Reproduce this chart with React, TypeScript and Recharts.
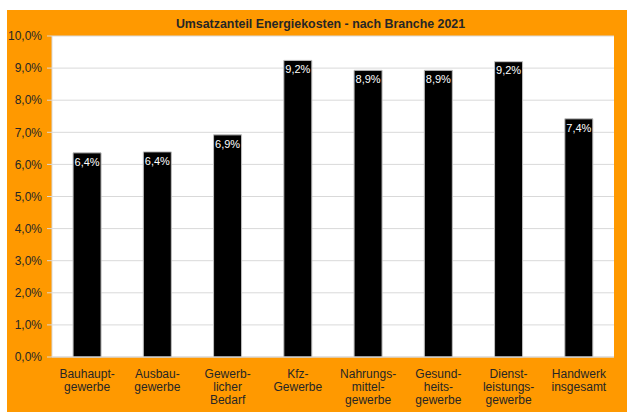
import { Bar, BarChart, CartesianGrid, LabelList, XAxis, YAxis } from "recharts";

const branchen = [
  "Bauhaupt-\ngewerbe",
  "Ausbau-\ngewerbe",
  "Gewerb-\nlicher\nBedarf",
  "Kfz-\nGewerbe",
  "Nahrungs-\nmittel-\ngewerbe",
  "Gesund-\nheits-\ngewerbe",
  "Dienst-\nleistungs-\ngewerbe",
  "Handwerk\ninsgesamt",
];

const anteil = [6.36, 6.39, 6.92, 9.24, 8.93, 8.93, 9.2, 7.42];

const yTicks = [0, 1, 2, 3, 4, 5, 6, 7, 8, 9, 10];

const data = branchen.map((name, i) => ({ name, value: anteil[i] }));

const FONT = '"Liberation Sans", Arial, sans-serif';
const pct = (v: number) => `${v.toFixed(1).replace(".", ",")}%`;

function BranchTick(props: any) {
  const { x, y, payload } = props;
  const lines = String(payload.value).split("\n");
  return (
    <text x={x} y={y} textAnchor="middle" fontFamily={FONT} fontSize={12} fill="#262626">
      {lines.map((l, i) => (
        <tspan key={i} x={x} dy={i === 0 ? "0.71em" : 13.3}>
          {l}
        </tspan>
      ))}
    </text>
  );
}

export default function App() {
  return (
    <div style={{ position: "absolute", left: 7, top: 10, width: 620, height: 402, background: "#ff9900" }}>
      <div
        style={{
          position: "absolute",
          left: 0,
          top: 7,
          width: 627,
          textAlign: "center",
          fontFamily: FONT,
          fontSize: 12.4,
          fontWeight: "bold",
          color: "#262626",
        }}
      >
        Umsatzanteil Energiekosten - nach Branche 2021
      </div>
      <BarChart
        width={620}
        height={402}
        data={data}
        margin={{ top: 26, right: 13, bottom: 0, left: 0 }}
        barCategoryGap="30%"
      >
        <CartesianGrid vertical={false} stroke="#d9d9d9" fill="#ffffff" />
        <XAxis
          dataKey="name"
          interval={0}
          height={55}
          tick={<BranchTick />}
          tickLine={false}
          axisLine={{ stroke: "#d9d9d9" }}
          tickMargin={6}
        />
        <YAxis
          width={45}
          domain={[0, 10]}
          ticks={yTicks}
          tickFormatter={pct}
          tick={{ fill: "#262626", fontSize: 12, fontFamily: FONT }}
          tickLine={{ stroke: "#d9d9d9" }}
          tickSize={5}
          tickMargin={5}
          axisLine={{ stroke: "#d9d9d9" }}
        />
        <Bar dataKey="value" fill="#000000" stroke="#bfbfbf" strokeWidth={1} isAnimationActive={false}>
          <LabelList
            dataKey="value"
            position="insideTop"
            formatter={(v: any) => pct(Number(v))}
            fill="#ffffff"
            fontSize={11}
            fontFamily={FONT}
          />
        </Bar>
      </BarChart>
    </div>
  );
}
